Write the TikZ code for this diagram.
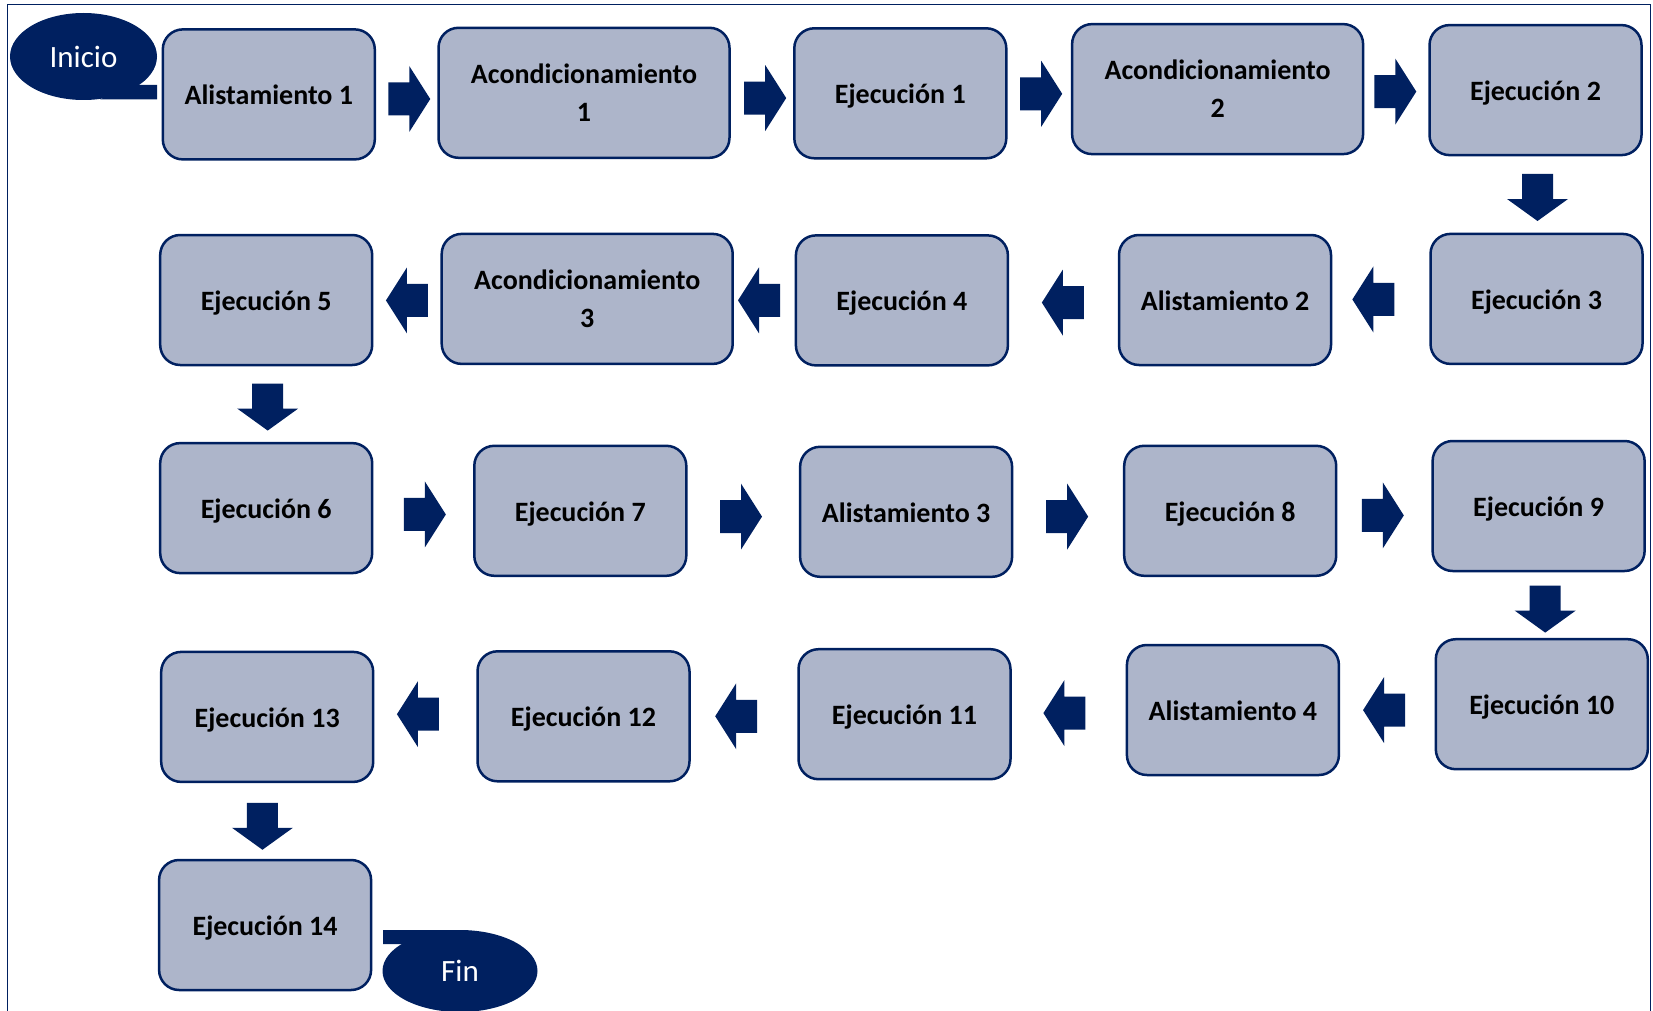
\documentclass[tikz,border=0pt]{standalone}
\usepackage{fontspec}
\setmainfont{Carlito}
\usetikzlibrary{calc,shapes.geometric}
\definecolor{navy}{HTML}{002060}
\definecolor{boxfill}{HTML}{ADB5CA}
\tikzset{
  basebox/.style={draw=navy, line width=2.5pt, fill=boxfill, rounded corners=20pt,
    minimum width=212pt, minimum height=130pt, inner sep=0pt, align=center,
    font=\fontsize{28}{38}\selectfont\bfseries, text=black},
  stepbox/.style={basebox, text height=21pt, text depth=0pt},
  widebox/.style={basebox, minimum width=291pt},
  terminal/.style={ellipse, fill=navy, inner sep=0pt, text=white,
    font=\fontsize{31}{37}\selectfont},
  rarrow/.pic={\fill[navy] (-21,-16.5) -- (0,-16.5) -- (0,-33) -- (21,0) -- (0,33) -- (0,16.5) -- (-21,16.5) -- cycle;},
  darrow/.pic={\fill[navy] (-15.5,23.5) -- (-15.5,-1.5) -- (-30.5,-1.5) -- (0,-23.5) -- (30.5,-1.5) -- (15.5,-1.5) -- (15.5,23.5) -- cycle;}
}
\begin{document}
\begin{tikzpicture}[x=1pt,y=1pt]
\useasboundingbox (0,0) rectangle (1653,-1011);
% frame
\draw[navy, line width=1.5pt] (7.5,-1011) -- (7.5,-4.5) -- (1650.5,-4.5) -- (1650.5,-1011);
% terminals
\node[terminal, minimum width=147pt, minimum height=87pt] (inicio) at (83.5,-56.5) {Inicio};
\fill[navy] (130,-85) -- (157,-85) -- (157,-99.5) -- (100,-99.5) -- cycle;
% row 1
\node[stepbox] (A1) at (268.8,-94.4) {Alistamiento 1};
\node[widebox] (Ac1) at (584,-92.8) {Acondicionamiento\\1};
\node[stepbox] (E1) at (900.3,-93.3) {Ejecución 1};
\node[widebox] (Ac2) at (1217.6,-89.1) {Acondicionamiento\\2};
\node[stepbox] (E2) at (1535.5,-90.1) {Ejecución 2};
% row 2
\node[stepbox] (E3) at (1536.5,-298.9) {Ejecución 3};
\node[stepbox] (Al2) at (1225,-300) {Alistamiento 2};
\node[stepbox] (E4) at (901.9,-300.4) {Ejecución 4};
\node[widebox] (Ac3) at (587.2,-298.9) {Acondicionamiento\\3};
\node[stepbox] (E5) at (266.2,-300) {Ejecución 5};
% row 3
\node[stepbox] (E6) at (266.2,-508.1) {Ejecución 6};
\node[stepbox] (E7) at (580.3,-510.8) {Ejecución 7};
\node[stepbox] (Al3) at (906.1,-511.8) {Alistamiento 3};
\node[stepbox] (E8) at (1230.2,-510.8) {Ejecución 8};
\node[stepbox] (E9) at (1538.6,-506) {Ejecución 9};
% row 4
\node[stepbox] (E10) at (1541.8,-704.2) {Ejecución 10};
\node[stepbox] (Al4) at (1232.9,-710) {Alistamiento 4};
\node[stepbox] (E11) at (904.5,-714.2) {Ejecución 11};
\node[stepbox] (E12) at (583.5,-716.3) {Ejecución 12};
\node[stepbox] (E13) at (267.2,-716.9) {Ejecución 13};
% row 5
\node[stepbox] (E14) at (265.1,-925) {Ejecución 14};
\node[terminal, minimum width=155pt, minimum height=82pt] (fin) at (460,-971) {Fin};
\fill[navy] (383,-930) -- (455,-930) -- (420,-944) -- (383,-944) -- cycle;
% block arrows, row 1
\pic (ar1) at ($(A1.east)!.5!(Ac1.west)+(2.6,-5.4)$) {rarrow};
\pic (ar2) at ($(Ac1.east)!.5!(E1.west)+(3.3,-5)$) {rarrow};
\pic (ar3) at ($(E1.east)!.5!(Ac2.west)+(2,-2.6)$) {rarrow};
\pic (ar4) at ($(Ac2.east)!.5!(E2.west)+(-1,-2)$) {rarrow};
\pic (ad1) at ($(E2.south)!.5!(E3.north)+(1.5,-3)$) {darrow};
% row 2
\pic[rotate=180] (al1) at ($(E3.west)!.5!(Al2.east)+(-7.4,0)$) {rarrow};
\pic[rotate=180] (al2) at ($(Al2.west)!.5!(E4.east)+(-0.6,-2.4)$) {rarrow};
\pic[rotate=180] (al3) at ($(E4.west)!.5!(Ac3.east)+(-5.3,-0.7)$) {rarrow};
\pic[rotate=180] (al4) at ($(Ac3.west)!.5!(E5.east)+(0,-1)$) {rarrow};
\pic (ad2) at ($(E5.south)!.5!(E6.north)+(1.5,-3)$) {darrow};
% row 3
\pic (ar5) at ($(E6.east)!.5!(E7.west)+(1.6,-5)$) {rarrow};
\pic (ar6) at ($(E7.east)!.5!(Al3.west)+(-2.2,-5.3)$) {rarrow};
\pic (ar7) at ($(Al3.east)!.5!(E8.west)+(-1,-5.3)$) {rarrow};
\pic (ar8) at ($(E8.east)!.5!(E9.west)+(-1.6,-7)$) {rarrow};
\pic (ad3) at ($(E9.south)!.5!(E10.north)+(5,-4)$) {darrow};
% row 4
\pic[rotate=180] (al5) at ($(E10.west)!.5!(Al4.east)+(-3.3,-3)$) {rarrow};
\pic[rotate=180] (al6) at ($(Al4.west)!.5!(E11.east)+(-4.3,-1)$) {rarrow};
\pic[rotate=180] (al7) at ($(E11.west)!.5!(E12.east)+(-7.8,-1)$) {rarrow};
\pic[rotate=180] (al8) at ($(E12.west)!.5!(E13.east)+(-7.4,2.4)$) {rarrow};
\pic (ad4) at ($(E13.south)!.5!(E14.north)+(-3.7,-5.3)$) {darrow};
\end{tikzpicture}
\end{document}
